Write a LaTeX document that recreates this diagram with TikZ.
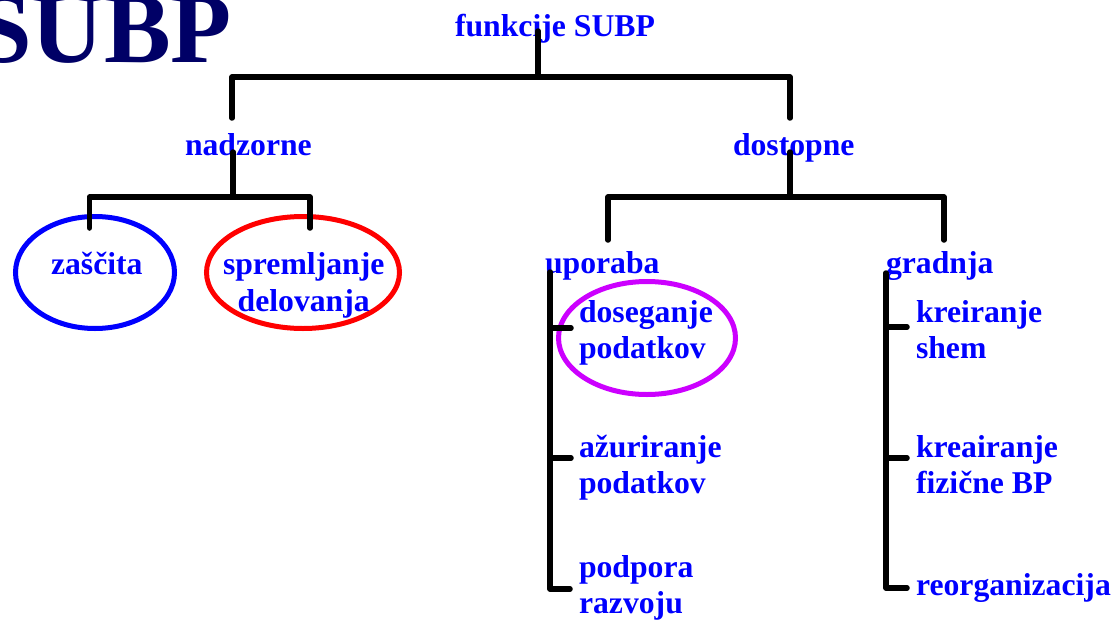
\documentclass[tikz,border=0pt]{standalone}
\usepackage{fontspec}
\setmainfont{Liberation Serif}
\definecolor{txtblue}{RGB}{0,0,255}
\definecolor{navytitle}{RGB}{0,0,102}
\definecolor{ringblue}{RGB}{0,0,255}
\definecolor{ringred}{RGB}{255,0,0}
\definecolor{ringpurple}{RGB}{204,0,255}
\begin{document}
\begin{tikzpicture}[x=1pt,y=-1pt,
  lbl/.style={text=txtblue,font=\bfseries\fontsize{31.7}{36.5}\selectfont,
    inner sep=0pt,outer sep=0pt,anchor=base west,align=left},
  wire/.style={line width=5.5pt,line cap=round,line join=round,black},
  ring/.style={line width=5pt}]
\useasboundingbox (0,0) rectangle (1116,621);

% title
\node[text=navytitle,font=\bfseries\fontsize{100}{110}\selectfont,
  inner sep=0pt,anchor=base west] (title) at (-24,62) {SUBP};

% highlight rings
\draw[ring,ringblue] (95,272.5) ellipse [x radius=79.5,y radius=56] coordinate (rz);
\draw[ring,ringred] (303,272.5) ellipse [x radius=96.5,y radius=56] coordinate (rs);
\draw[ring,ringpurple] (647,338) ellipse [x radius=88.5,y radius=56.5] coordinate (rd);

% labels (two-line labels are placed by the baseline of their last line)
\node[lbl] (root) at (455,36) {funkcije SUBP};
\node[lbl] (nadz) at (185,155) {nadzorne};
\node[lbl] (dost) at (733,155) {dostopne};
\node[lbl] (zasc) at (51,274) {zaščita};
\node[lbl,align=center] (sprem) at (223,311) {spremljanje\\delovanja};
\node[lbl] (upor) at (545,273) {uporaba};
\node[lbl] (grad) at (886,273) {gradnja};
\node[lbl] (dos) at (579,358.5) {doseganje\\podatkov};
\node[lbl] (azu) at (579,493.5) {ažuriranje\\podatkov};
\node[lbl] (pod) at (579,613.5) {podpora\\razvoju};
\node[lbl] (kre) at (916,358.5) {kreiranje\\shem};
\node[lbl] (krf) at (916,493.5) {kreairanje\\fizične BP};
\node[lbl] (reo) at (916,595) {reorganizacija};

% junction points of the tree
\coordinate (r0) at (538,31);
\coordinate (r1) at (538,77);
\coordinate (a0) at (232,77);
\coordinate (a1) at (232,118);
\coordinate (b0) at (790,77);
\coordinate (b1) at (790,118);
\coordinate (n0) at (233,152);
\coordinate (n1) at (233,197);
\coordinate (n2) at (89.5,197);
\coordinate (n3) at (89.5,228);
\coordinate (n4) at (310,197);
\coordinate (n5) at (310,228);
\coordinate (d0) at (790,152);
\coordinate (d1) at (790,197);
\coordinate (d2) at (608,197);
\coordinate (d3) at (608,240);
\coordinate (d4) at (944,197);
\coordinate (d5) at (944,240);
\coordinate (u0) at (550,272);
\coordinate (u1) at (550,589);
\coordinate (g0) at (886,273);
\coordinate (g1) at (886,588);

% tree wiring
\draw[wire] (r0) -- (r1);
\draw[wire] (a1) -- (a0) -- (b0) -- (b1);
\draw[wire] (n0) -- (n1);
\draw[wire] (n3) -- (n2) -- (n4) -- (n5);
\draw[wire] (d0) -- (d1);
\draw[wire] (d3) -- (d2) -- (d4) -- (d5);

% bracket under "uporaba"
\draw[wire] (u0) -- (u1) -- (570,589);
\draw[wire] (550,328) -- (571,328);
\draw[wire] (550,458) -- (571,458);

% bracket under "gradnja"
\draw[wire] (g0) -- (g1) -- (907,588);
\draw[wire] (886,327) -- (907,327);
\draw[wire] (886,458) -- (907,458);
\end{tikzpicture}
\end{document}
